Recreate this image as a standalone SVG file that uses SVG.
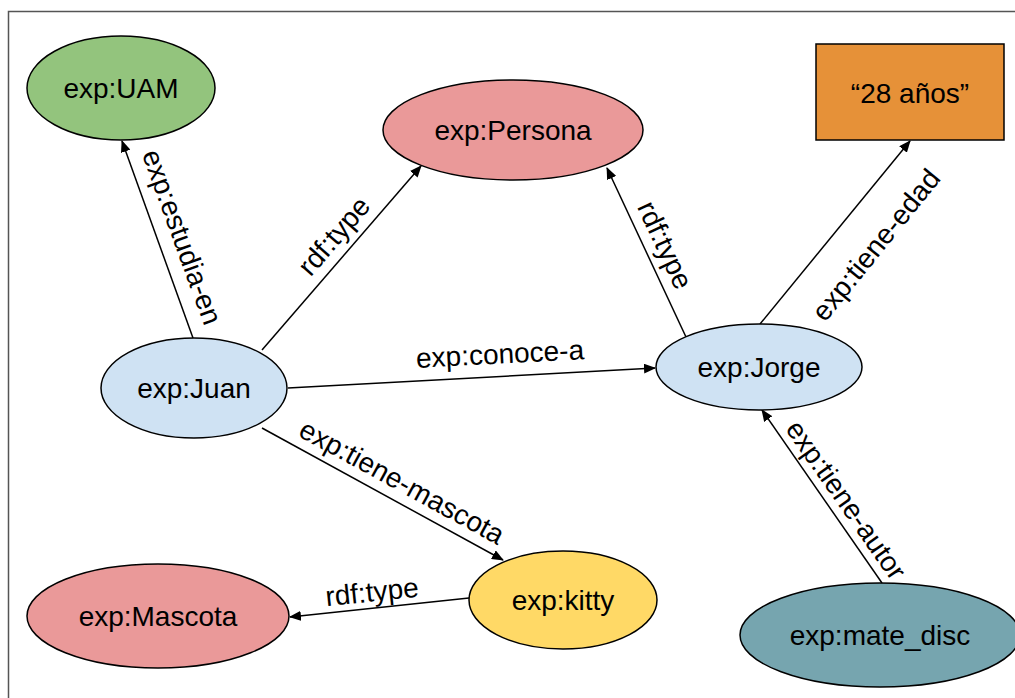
<svg xmlns="http://www.w3.org/2000/svg" width="1015" height="698" viewBox="0 0 1015 698">
<style>
.n{stroke:#000;stroke-width:1.5}
text{font-family:"Liberation Sans",Arial,sans-serif;font-size:28px;fill:#000;text-anchor:middle;dominant-baseline:central}
.c line{stroke:#000;stroke-width:1.5;marker-end:url(#ah)}
</style>
<defs>
<marker id="ah" markerUnits="userSpaceOnUse" markerWidth="12" markerHeight="10" viewBox="0 0 12 10" refX="11" refY="5" orient="auto">
<path d="M0,0 L12,5 L0,10 Z" fill="#000"/>
</marker>
</defs>
<rect width="1015" height="698" fill="#fff"/>
<path d="M8.5,698 V11.5 H1015" fill="none" stroke="#555" stroke-width="1.5"/>
<g class="c" id="connectors">
<line x1="193" y1="338" x2="122" y2="141"/>
<line x1="262" y1="350" x2="421" y2="166"/>
<line x1="288" y1="388" x2="655" y2="368"/>
<line x1="262" y1="428" x2="503" y2="560"/>
<line x1="469" y1="598" x2="290" y2="617"/>
<line x1="686" y1="337" x2="607" y2="168"/>
<line x1="760" y1="324" x2="910" y2="141"/>
<line x1="882" y1="583" x2="762" y2="410"/>
<text transform="translate(182,237) rotate(70)">exp:estudia-en</text>
<text transform="translate(334,236) rotate(-49)">rdf:type</text>
<text transform="translate(500,354) rotate(-3)">exp:conoce-a</text>
<text transform="translate(402,482) rotate(28.7)">exp:tiene-mascota</text>
<text transform="translate(372,592) rotate(-6)">rdf:type</text>
<text transform="translate(665,245) rotate(65)">rdf:type</text>
<text transform="translate(876,245) rotate(-51)">exp:tiene-edad</text>
<text transform="translate(846,500) rotate(55)">exp:tiene-autor</text>
</g>
<g id="uam"><ellipse class="n" cx="121" cy="88" rx="94" ry="52" fill="#93c47d"/><text x="121" y="88">exp:UAM</text></g>
<g id="persona"><ellipse class="n" cx="513" cy="130" rx="130" ry="50" fill="#ea9999"/><text x="513" y="130">exp:Persona</text></g>
<g id="edad"><rect class="n" x="816" y="44" width="188" height="96" fill="#e69138"/><text x="910" y="93">“28 años”</text></g>
<g id="juan"><ellipse class="n" cx="194" cy="388" rx="93" ry="50" fill="#cfe2f3"/><text x="194" y="388">exp:Juan</text></g>
<g id="jorge"><ellipse class="n" cx="759" cy="367" rx="103" ry="43" fill="#cfe2f3"/><text x="759" y="367">exp:Jorge</text></g>
<g id="kitty"><ellipse class="n" cx="563" cy="600" rx="94" ry="49" fill="#ffd966"/><text x="563" y="600">exp:kitty</text></g>
<g id="mascota"><ellipse class="n" cx="158" cy="616" rx="131" ry="52" fill="#ea9999"/><text x="158" y="616">exp:Mascota</text></g>
<g id="mate"><ellipse class="n" cx="880" cy="635" rx="140" ry="52" fill="#76a5af"/><text x="880" y="635">exp:mate_disc</text></g>
</svg>
